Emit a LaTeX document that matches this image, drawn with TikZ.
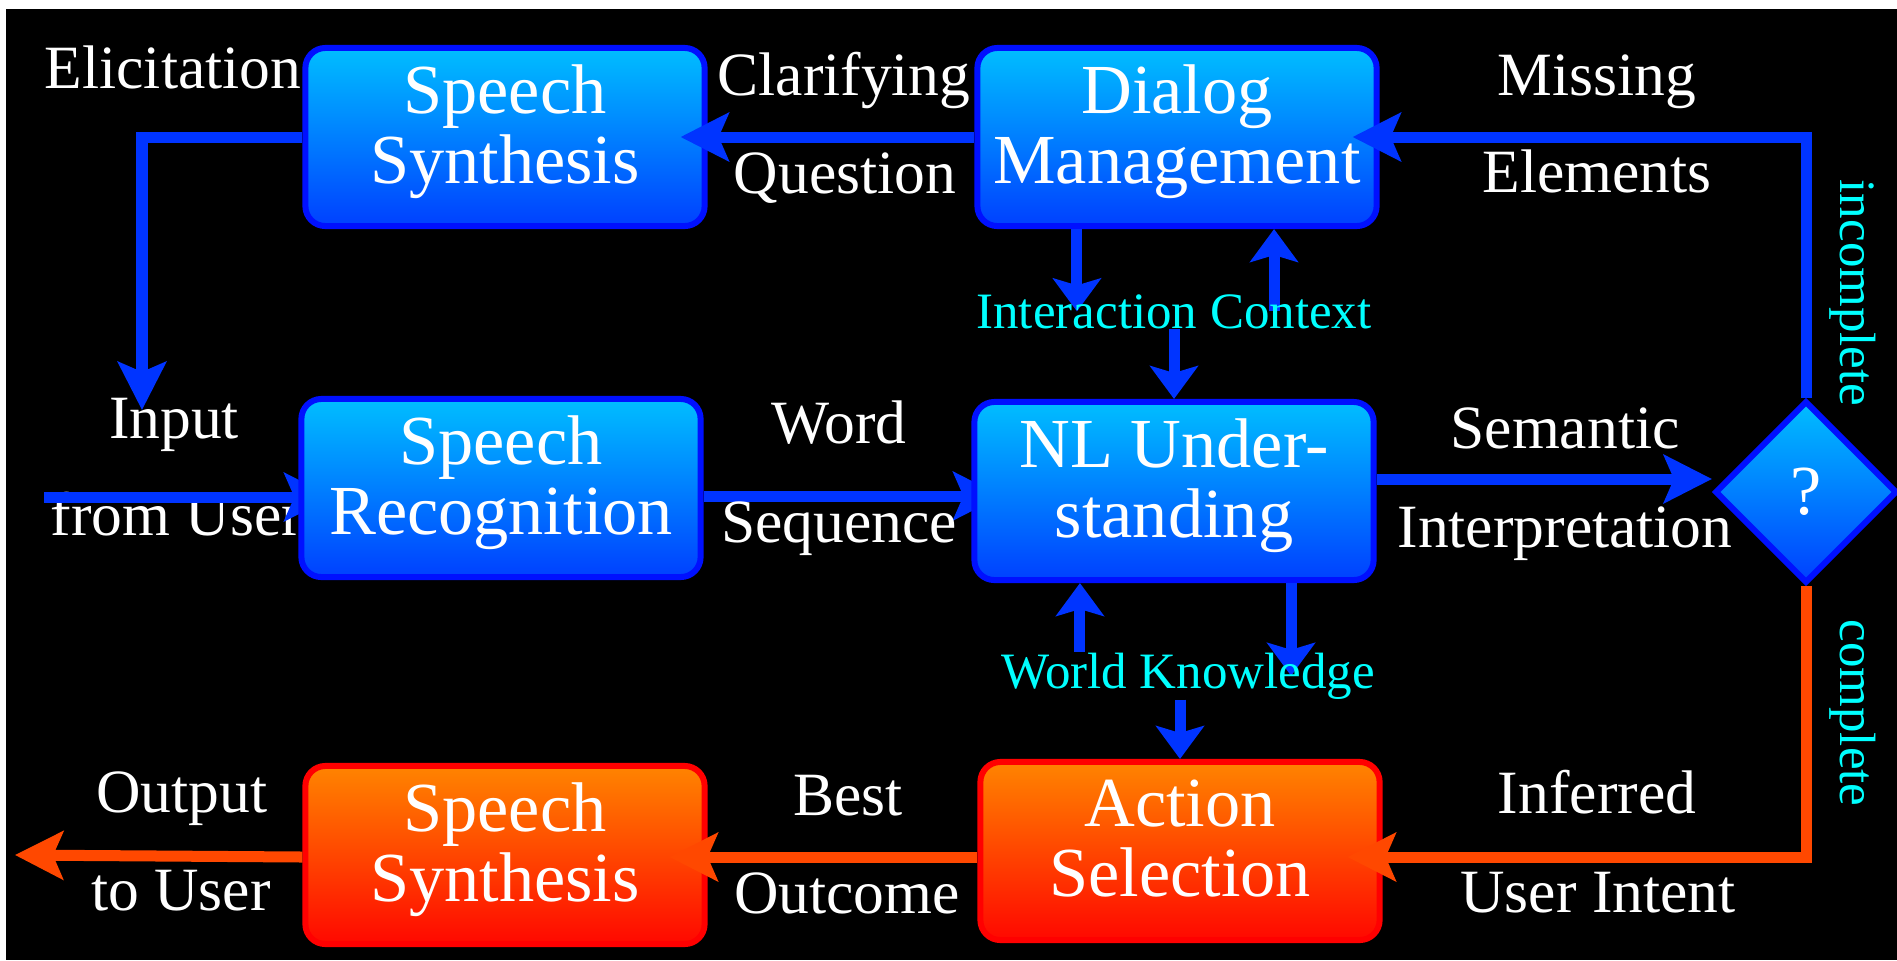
\documentclass[tikz,border=0pt]{standalone}
\usepackage{fontspec}
\setmainfont{Liberation Serif}
\usetikzlibrary{arrows.meta,shapes.geometric}
\definecolor{bxTop}{RGB}{0,190,255}
\definecolor{bxBot}{RGB}{0,64,255}
\definecolor{bxLine}{RGB}{0,16,255}
\definecolor{orTop}{RGB}{255,132,0}
\definecolor{orBot}{RGB}{255,8,0}
\definecolor{orLine}{RGB}{255,0,0}
\definecolor{arBlue}{RGB}{0,52,255}
\definecolor{arOrange}{RGB}{255,72,0}
\definecolor{cyanTxt}{RGB}{0,255,255}
\pgfdeclarelayer{bglayer}
\pgfdeclarelayer{underlayer}
\pgfdeclarelayer{overlayer}
\pgfsetlayers{bglayer,underlayer,main,overlayer}
\tikzset{
  htip/.tip={Stealth[length=0.48cm,width=0.48cm,inset=0.1cm]},
  vtip/.tip={Stealth[length=0.33cm,width=0.48cm,inset=0.07cm]},
}
\begin{document}
\begin{tikzpicture}[x=0.01cm,y=-0.01cm,
  bluebox/.style={rectangle,rounded corners=0.2cm,draw=bxLine,line width=0.06cm,
    top color=bxTop,bottom color=bxBot,minimum width=3.99cm,minimum height=1.78cm,
    inner sep=0pt,align=center,text=white,text depth=0.25cm,
    font=\fontsize{20}{19.9}\selectfont},
  orangebox/.style={bluebox,draw=orLine,top color=orTop,bottom color=orBot},
  decision/.style={diamond,aspect=1,draw=bxLine,line width=0.06cm,top color=bxTop,
    bottom color=bxBot,minimum width=1.82cm,minimum height=1.82cm,inner sep=0pt,
    text=white,font=\fontsize{20}{20}\selectfont},
  lbl/.style={text=white,font=\fontsize{17.5}{21}\selectfont,anchor=base,inner sep=0pt},
  cyl/.style={text=cyanTxt,font=\fontsize{14.5}{17}\selectfont,inner sep=0pt},
  conn/.style={draw=arBlue,line width=0.11cm,-{htip}},
  oconn/.style={draw=arOrange,line width=0.11cm,-{htip}},
  vconn/.style={draw=arBlue,line width=0.11cm,-{vtip}},
]
% background
\path[use as bounding box] (0,0) rectangle (1897,960);
\begin{pgfonlayer}{bglayer}
\fill[white] (0,0) rectangle (1897,960);
\fill[black] (6,9) rectangle (1897,960);
\end{pgfonlayer}

% helper coordinates
\coordinate (inStart) at (44,497);
\coordinate (elTip) at (142,410);
\coordinate (outEnd) at (15,855);
\coordinate (ySR) at (0,496);
\coordinate (ySem) at (0,479);
\coordinate (yAS) at (0,857);

% boxes
\node[bluebox] (ss1) at (505,137) {Speech\\Synthesis};
\node[bluebox] (dm) at (1177,137) {Dialog\\Management};
\node[bluebox] (sr) at (501,488) {Speech\\Recognition};
\node[bluebox] (nlu) at (1174,491) {NL Under-\\standing};
\node[orangebox] (ss2) at (505,855) {Speech\\Synthesis};
\node[orangebox] (as) at (1180,851) {Action\\Selection};
\node[decision] (dia) at (1806,492) {?};

% things lying under the boxes
\begin{pgfonlayer}{underlayer}
\node[lbl,anchor=base west] (lFrom) at (50,535) {from User};
\draw[conn] (inStart) -- ([xshift=0.34cm]inStart -| sr.west);
\draw[conn] (sr.east |- ySR) -- ([xshift=0.3cm]nlu.west |- ySR);
\draw[conn] (nlu.east |- ySem) -- (dia.west |- ySem);
\end{pgfonlayer}

% connectors on top of boxes
\draw[conn] (dm.west) -- ([xshift=-0.27cm]ss1.east);
\draw[conn] (dia.north) |- ([xshift=-0.27cm]dm.east);
\draw[conn] (ss1.west) -| (elTip);
\draw[oconn] (dia.south) |- ([xshift=-0.35cm]as.east |- yAS);
\draw[oconn] (as.west |- yAS) -- ([xshift=-0.38cm]ss2.east |- yAS);
\draw[oconn] (ss2.west |- yAS) -- (outEnd);

% cyan context labels (on top)
\begin{pgfonlayer}{overlayer}
\node[cyl,anchor=base] (ic) at (1174,328) {Interaction Context};
\node[cyl,anchor=base] (wk) at (1188,688) {World Knowledge};
\end{pgfonlayer}

% vertical connectors
\draw[vconn] ([xshift=-1.00cm]dm.south) -- ([xshift=-1.00cm]dm.south |- ic.center);
\draw[vconn] ([xshift=0.97cm]dm.south |- ic.center) -- ([xshift=0.97cm]dm.south);
\draw[vconn] (ic.south) -- (nlu.north);
\draw[vconn] ([xshift=-0.94cm]nlu.south |- wk.north) -- ([xshift=-0.94cm]nlu.south);
\draw[vconn] ([xshift=1.17cm]nlu.south) -- ([xshift=1.17cm]nlu.south |- wk.center);
\draw[vconn] (wk.south -| as.north) -- (as.north);

% white labels
\begin{pgfonlayer}{overlayer}
\node[lbl] (lElic) at (173,88) {Elicitation};
\node[lbl] (lInp) at (174,438) {Input};
\node[lbl] (lOut) at (182,812) {Output};
\node[lbl] (lToU) at (181,910) {to User};
\node[lbl] (lClar) at (844,95) {Clarifying};
\node[lbl] (lQues) at (845,193) {Question};
\node[lbl] (lWord) at (839,443) {Word};
\node[lbl] (lSeq) at (839,542) {Sequence};
\node[lbl] (lBest) at (848,815) {Best};
\node[lbl] (lOutc) at (847,913) {Outcome};
\node[lbl] (lMiss) at (1597,95) {Missing};
\node[lbl] (lElem) at (1597,192) {Elements};
\node[lbl] (lSem) at (1565,448) {Semantic};
\node[lbl] (lInt) at (1565,547) {Interpretation};
\node[lbl] (lInf) at (1597,813) {Inferred};
\node[lbl] (lUI) at (1598,912) {User Intent};
\node[cyl,rotate=-90] (lInc) at (1853,293) {incomplete};
\node[cyl,rotate=-90] (lCom) at (1853,713) {complete};
\end{pgfonlayer}
\end{tikzpicture}
\end{document}
